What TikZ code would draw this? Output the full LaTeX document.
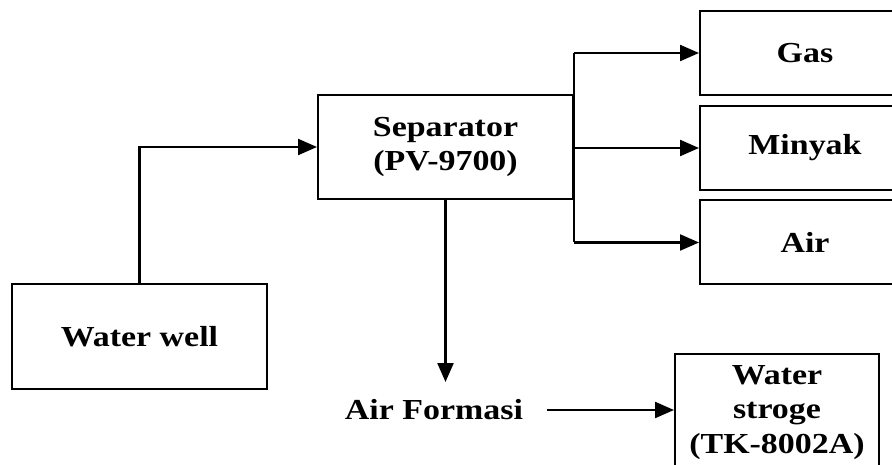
\documentclass[tikz,border=0pt]{standalone}
\usepackage{fontspec}
\setmainfont{Liberation Serif}[FakeStretch=1.17]
\usetikzlibrary{arrows.meta}
\begin{document}
\begin{tikzpicture}[x=1pt,y=-1pt,
  txt/.style={inner sep=0pt,align=center,font=\bfseries\fontsize{29}{34.5}\selectfont},
  box/.style={txt,draw,line width=2pt},
  link/.style={line width=2.3pt},
  flow/.style={link,-{Triangle[length=19pt,width=16pt]}}]
\useasboundingbox (0,0) rectangle (892,465);
\node[box,minimum width=255,minimum height=105] (well) at (139.5,336.5) {Water well};
\node[box,minimum width=255,minimum height=104] (sep) at (445.5,147) {Separator\\(PV-9700)};
\node[box,minimum width=210,minimum height=84] (gas) at (805,53) {Gas};
\node[box,minimum width=210,minimum height=84] (minyak) at (805,148) {Minyak};
\node[box,minimum width=210,minimum height=84] (air) at (805,242.5) {Air};
\node[box,minimum width=204,minimum height=117] (tank) at (777,412.5) {Water\\stroge\\(TK-8002A)};
\node[txt] (af) at (434,410) {Air Formasi};
\coordinate (afin) at (445.5,382);
\draw[flow] (well.north) |- (sep.west);
\draw[link] (sep.east |- gas.west) -- (sep.east |- air.west);
\draw[flow] (sep.east |- gas.west) -- (gas.west);
\draw[flow] (sep.east |- minyak.west) -- (minyak.west);
\draw[flow] (sep.east |- air.west) -- (air.west);
\draw[flow] (sep.south) -- (afin);
\draw[flow,shorten <=24pt] (af.east) -- (af.east -| tank.west);
\end{tikzpicture}
\end{document}
